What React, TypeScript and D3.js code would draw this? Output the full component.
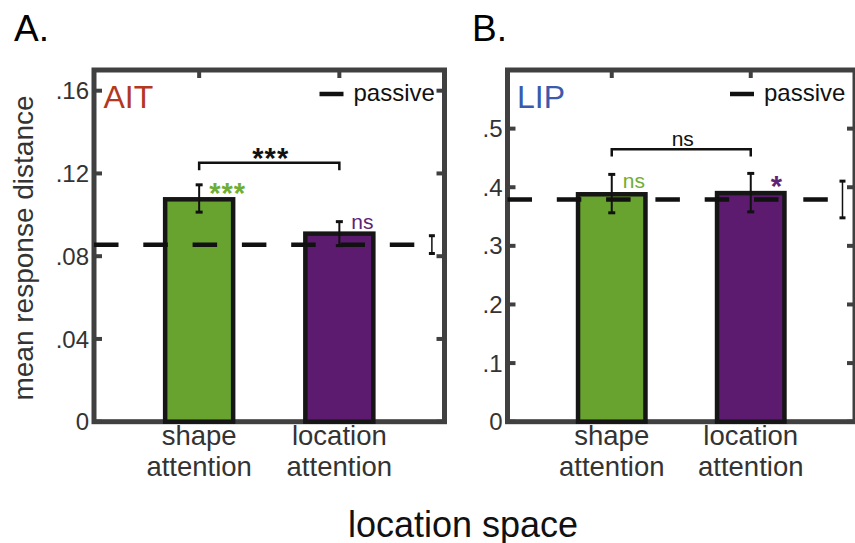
import React from "react";
import * as d3 from "d3";

const categories = ["shape\nattention", "location\nattention"];
const barColors = ["#68a22f", "#5c1b6e"];
const sigColors = ["#6fae33", "#5f2375"];

// Panel A (AIT)
const aitMeans = [0.1075, 0.0909];
const aitErrLow = [0.1013, 0.0851];
const aitErrHigh = [0.1145, 0.0967];
const aitPassive = 0.0855;
const aitPassiveErr = [0.0813, 0.0899];
const aitTicks = [0, 0.04, 0.08, 0.12, 0.16];
const aitTickLabels = ["0", ".04", ".08", ".12", ".16"];
const aitSig = ["***", "ns"];
const aitPairSig = "***";

// Panel B (LIP)
const lipMeans = [0.388, 0.39];
const lipErrLow = [0.3564, 0.358];
const lipErrHigh = [0.4219, 0.4236];
const lipPassive = 0.3791;
const lipPassiveErr = [0.3478, 0.4104];
const lipTicks = [0, 0.1, 0.2, 0.3, 0.4, 0.5];
const lipTickLabels = ["0", ".1", ".2", ".3", ".4", ".5"];
const lipSig = ["ns", "*"];
const lipPairSig = "ns";

const FONT = "'Liberation Sans', Arial, Helvetica, sans-serif";
const FRAME = "#404040";
const TXT = "#333333";

type PanelProps = {
  letter: string;
  letterX: number;
  name: string;
  nameColor: string;
  left: number;
  right: number;
  yMax: number;
  means: number[];
  lo: number[];
  hi: number[];
  passive: number;
  passiveErr: number[];
  ticks: number[];
  tickLabels: string[];
  sig: string[];
  sigOffsets: { dx: number; dy: number }[];
  pairSig: string;
  bracketVal: number;
  bracketLeg: number;
};

function SigText(props: { x: number; y: number; s: string; fill: string; anchor?: string }) {
  const isNs = props.s === "ns";
  return (
    <text
      x={props.x}
      y={props.y}
      textAnchor={props.anchor || "start"}
      fontSize={isNs ? 21 : 29}
      fontWeight={isNs ? "normal" : "bold"}
      letterSpacing={isNs ? 0 : 1}
      fontFamily={FONT}
      fill={props.fill}
    >
      {props.s}
    </text>
  );
}

function Panel(p: PanelProps) {
  const top = 70;
  const bottom = 421.7;
  const x = d3.scaleLinear().domain([0.25, 2.75]).range([p.left, p.right]);
  const y = d3.scaleLinear().domain([0, p.yMax]).range([bottom, top]);
  const bw = 0.485;
  const tickLen = 8;
  const pos = [1, 2];
  const passiveX = 2.66;
  return (
    <g>
      <text x={p.letterX} y={41} fontSize={37} fontFamily={FONT} fill="#000">
        {p.letter}
      </text>
      {/* frame */}
      <rect
        x={p.left}
        y={top}
        width={p.right - p.left}
        height={bottom - top}
        fill="none"
        stroke={FRAME}
        strokeWidth={5}
      />
      {p.ticks.map((t, i) => (
        <g key={"t" + i}>
          <line x1={p.left} x2={p.left + tickLen} y1={y(t)} y2={y(t)} stroke={FRAME} strokeWidth={4} />
          <line x1={p.right} x2={p.right - tickLen} y1={y(t)} y2={y(t)} stroke={FRAME} strokeWidth={4} />
          <text
            x={p.left - 5}
            y={y(t)}
            dy="0.36em"
            textAnchor="end"
            fontSize={24}
            fontFamily={FONT}
            fill={TXT}
          >
            {p.tickLabels[i]}
          </text>
        </g>
      ))}
      {pos.map((v) => (
        <g key={"xt" + v}>
          <line x1={x(v)} x2={x(v)} y1={top} y2={top + tickLen} stroke={FRAME} strokeWidth={4} />
          <line x1={x(v)} x2={x(v)} y1={bottom} y2={bottom - tickLen} stroke={FRAME} strokeWidth={4} />
        </g>
      ))}
      {/* bars */}
      {p.means.map((m, i) => (
        <rect
          key={"b" + i}
          x={x(pos[i] - bw / 2)}
          y={y(m)}
          width={x(pos[i] + bw / 2) - x(pos[i] - bw / 2)}
          height={y(0) - y(m)}
          fill={barColors[i]}
          stroke="#161616"
          strokeWidth={4.5}
        />
      ))}
      {/* passive dashed line */}
      <line
        x1={x(0.25)}
        x2={x(2.6)}
        y1={y(p.passive)}
        y2={y(p.passive)}
        stroke="#111"
        strokeWidth={4.5}
        strokeDasharray="24.5 24.8"
      />
      {/* error bars */}
      {p.means.map((m, i) => (
        <g key={"e" + i} stroke="#111">
          <line x1={x(pos[i])} x2={x(pos[i])} y1={y(p.lo[i])} y2={y(p.hi[i])} strokeWidth={2} />
          <line x1={x(pos[i]) - 3.5} x2={x(pos[i]) + 3.5} y1={y(p.lo[i])} y2={y(p.lo[i])} strokeWidth={3} />
          <line x1={x(pos[i]) - 3.5} x2={x(pos[i]) + 3.5} y1={y(p.hi[i])} y2={y(p.hi[i])} strokeWidth={3} />
        </g>
      ))}
      <g stroke="#111">
        <line x1={x(passiveX)} x2={x(passiveX)} y1={y(p.passiveErr[0])} y2={y(p.passiveErr[1])} strokeWidth={1.5} />
        <line x1={x(passiveX) - 3} x2={x(passiveX) + 3} y1={y(p.passiveErr[0])} y2={y(p.passiveErr[0])} strokeWidth={3} />
        <line x1={x(passiveX) - 3} x2={x(passiveX) + 3} y1={y(p.passiveErr[1])} y2={y(p.passiveErr[1])} strokeWidth={3} />
      </g>
      {/* per-bar significance */}
      {p.sig.map((s, i) => (
        <SigText
          key={"s" + i}
          x={x(pos[i]) + p.sigOffsets[i].dx}
          y={y(p.hi[i]) + p.sigOffsets[i].dy}
          s={s}
          fill={sigColors[i]}
        />
      ))}
      {/* bracket */}
      <path
        d={`M${x(1)},${y(p.bracketLeg)}V${y(p.bracketVal)}H${x(2)}V${y(p.bracketLeg)}`}
        fill="none"
        stroke="#111"
        strokeWidth={2.5}
      />
      <SigText
        x={(x(1) + x(2)) / 2 + 1.5}
        y={y(p.bracketVal) + (p.pairSig === "ns" ? -3 : 5.3)}
        s={p.pairSig}
        fill="#111"
        anchor="middle"
      />
      {/* region name */}
      <text x={p.left + 9.5} y={108} fontSize={32} fontFamily={FONT} fill={p.nameColor}>
        {p.name}
      </text>
      {/* legend */}
      <line x1={p.right - 125} x2={p.right - 101} y1={94} y2={94} stroke="#111" strokeWidth={4.5} />
      <text x={p.right - 91} y={101} fontSize={24} fontFamily={FONT} fill="#111">
        passive
      </text>
      {/* x tick labels */}
      {categories.map((c, i) => (
        <text
          key={"c" + i}
          x={x(pos[i])}
          y={445}
          textAnchor="middle"
          fontSize={27.5}
          fontFamily={FONT}
          fill={TXT}
        >
          {c.split("\n").map((ln, j) => (
            <tspan key={j} x={x(pos[i])} dy={j === 0 ? 0 : 30.5}>
              {ln}
            </tspan>
          ))}
        </text>
      ))}
    </g>
  );
}

export default function App() {
  return (
    <svg
      width={855}
      height={543}
      style={{ position: "absolute", left: 0, top: 0, background: "#fff" }}
    >
      <rect x={0} y={0} width={855} height={543} fill="#fff" />
      <Panel
        letter="A."
        letterX={14}
        name="AIT"
        nameColor="#b3381f"
        left={94}
        right={444.5}
        yMax={0.17}
        means={aitMeans}
        lo={aitErrLow}
        hi={aitErrHigh}
        passive={aitPassive}
        passiveErr={aitPassiveErr}
        ticks={aitTicks}
        tickLabels={aitTickLabels}
        sig={aitSig}
        sigOffsets={[
          { dx: 10, dy: 18.6 },
          { dx: 12, dy: 7 },
        ]}
        pairSig={aitPairSig}
        bracketVal={0.1252}
        bracketLeg={0.1216}
      />
      <Panel
        letter="B."
        letterX={472}
        name="LIP"
        nameColor="#3b5aab"
        left={507.5}
        right={855}
        yMax={0.6}
        means={lipMeans}
        lo={lipErrLow}
        hi={lipErrHigh}
        passive={lipPassive}
        passiveErr={lipPassiveErr}
        ticks={lipTicks}
        tickLabels={lipTickLabels}
        sig={lipSig}
        sigOffsets={[
          { dx: 11, dy: 14 },
          { dx: 20, dy: 22.7 },
        ]}
        pairSig={lipPairSig}
        bracketVal={0.4646}
        bracketLeg={0.4526}
      />
      <text
        transform="translate(33,248) rotate(-90)"
        textAnchor="middle"
        fontSize={28}
        fontFamily={FONT}
        fill={TXT}
      >
        mean response distance
      </text>
      <text x={463} y={536.5} textAnchor="middle" fontSize={36} fontFamily={FONT} fill="#111">
        location space
      </text>
    </svg>
  );
}
